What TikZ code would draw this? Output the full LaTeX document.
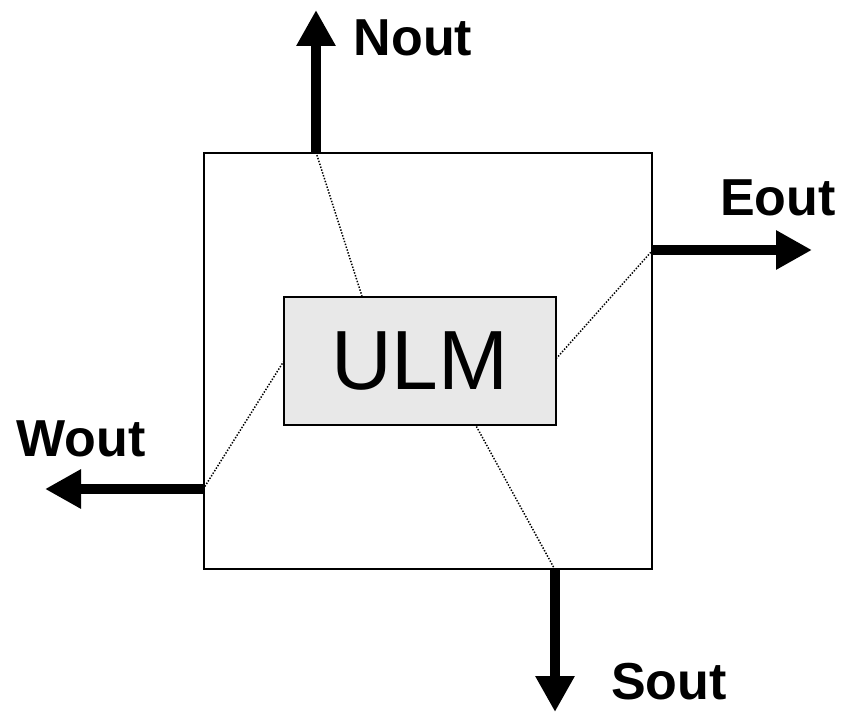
\documentclass[tikz,border=0pt]{standalone}
\usepackage{fontspec}
\setmainfont{Liberation Sans}
\usetikzlibrary{arrows.meta}

\begin{document}
\begin{tikzpicture}[x=1pt,y=-1pt,
  outarrow/.style={line width=10pt,-{Triangle[width=37pt,length=36pt]}},
  portline/.style={line width=1.5pt,dash pattern=on 1.4pt off 1.6pt},
  portlabel/.style={inner sep=0pt,font=\fontsize{52}{52}\selectfont\bfseries}]
\useasboundingbox (0,0) rectangle (844,714);
% router cell and the local module
\node[draw,line width=1.5pt,minimum width=448pt,minimum height=416pt,inner sep=0pt] (cell) at (428,361) {};
\node[draw,line width=1.5pt,fill=black!9,minimum width=272pt,minimum height=128pt,inner sep=0pt] (ulm) at (420,361)
  {\fontsize{84}{84}\selectfont ULM};
% output ports
\coordinate (ntip) at (316,10);
\coordinate (etip) at (812,250);
\coordinate (wtip) at (45,489);
\coordinate (stip) at (555,712);
\draw[outarrow] (ntip |- cell.north) -- (ntip);
\draw[outarrow] (etip -| cell.east) -- (etip);
\draw[outarrow] (wtip -| cell.west) -- (wtip);
\draw[outarrow] (stip |- cell.south) -- (stip);
\node[portlabel] (nout) at (413,38) {Nout};
\node[portlabel] (eout) at (778,198) {Eout};
\node[portlabel] (wout) at (81,439) {Wout};
\node[portlabel] (sout) at (669,682) {Sout};
% links to the module
\coordinate (nin) at (362,0);
\coordinate (ein) at (0,358);
\coordinate (win) at (0,362);
\coordinate (sin) at (476,0);
\draw[portline] (ntip |- cell.north) -- (nin |- ulm.north);
\draw[portline] (etip -| cell.east) -- (ein -| ulm.east);
\draw[portline] (wtip -| cell.west) -- (win -| ulm.west);
\draw[portline] (stip |- cell.south) -- (sin |- ulm.south);
\end{tikzpicture}
\end{document}
